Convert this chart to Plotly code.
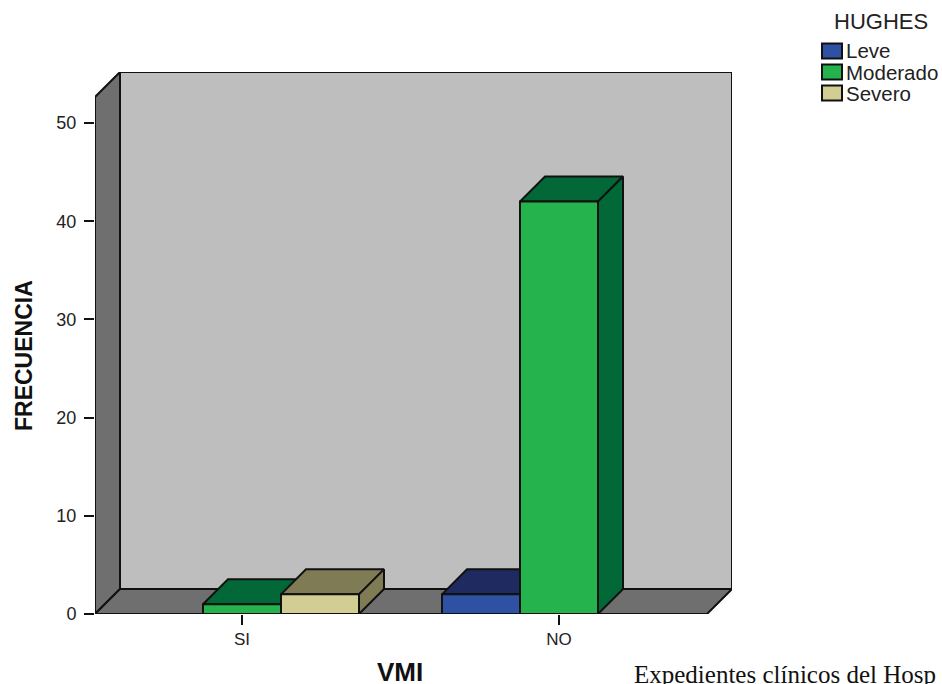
import plotly.graph_objects as go

categories = ["SI", "NO"]
positions = [0, 1]
series_names = ["Leve", "Moderado", "Severo"]
leve = [None, 2]
moderado = [1, 42]
severo = [2, None]
y_ticks = [0, 10, 20, 30, 40, 50]

front_colors = ["#2F51A3", "#25B34E", "#D1CD93"]
dark_colors = ["#1F2A60", "#036837", "#7F7B55"]
WALL = "#BEBEBE"
SHADE = "#6F6F6F"
LINE = "#111111"
TEXT = "#222222"
SANS = "Liberation Sans"

FIG_W = 942
FIG_H = 684
LEFT, RIGHT, TOP, BOTTOM = 95, 732, 72, 614

# scale of the plot area (pixels per data unit) and 3D depth in pixels
PX_X = 317.0
PX_Y = 9.82
DEPTH = 25.0
DX = DEPTH / PX_X
DY = DEPTH / PX_Y
X0 = (LEFT - 242) / PX_X
X1 = (707 - 242) / PX_X
Y_MAX = (BOTTOM - TOP) / PX_Y
BAR = 78 / PX_X
GAP = 1 - 3 * BAR


def px(x):
    return (x - LEFT) / (RIGHT - LEFT)


def py(y):
    return 1 - (y - TOP) / (BOTTOM - TOP)


fig = go.Figure()


def poly(xs, ys, color, width=2):
    fig.add_trace(go.Scatter(
        x=xs + xs[:1], y=ys + ys[:1], mode="lines", fill="toself",
        fillcolor=color, line=dict(color=LINE, width=width),
        showlegend=False, hoverinfo="skip", xaxis="x", yaxis="y"))


# walls and floor
poly([X0 + DX, X1 + DX, X1 + DX, X0 + DX], [DY, DY, Y_MAX, Y_MAX], WALL)
poly([X0, X0 + DX, X0 + DX, X0], [0, DY, Y_MAX, Y_MAX - DY], SHADE)
poly([X0, X0 + DX, X1 + DX, X1], [0, DY, DY, 0], SHADE)

all_series = [leve, moderado, severo]
for pos_i, pos in enumerate(positions):
    for s_i, values in enumerate(all_series):
        v = values[pos_i]
        if v is None:
            continue
        left = pos + (s_i - 1.5) * BAR
        right = left + BAR
        poly([left, left + DX, right + DX, right], [v, v + DY, v + DY, v], dark_colors[s_i])
        poly([right, right + DX, right + DX, right], [0, DY, v + DY, v], dark_colors[s_i])

for name, values, color in zip(series_names, all_series, front_colors):
    fig.add_trace(go.Bar(
        x=positions, y=values, name=name, showlegend=False,
        marker=dict(color=color, line=dict(color=LINE, width=2)),
        xaxis="x2", yaxis="y2", hoverinfo="skip"))

annotations = [
    dict(text="Expedientes clínicos del Hosp", xref="paper", yref="paper",
         x=px(632), xanchor="left", y=py(674), yanchor="middle", height=20, showarrow=False,
         font=dict(family="Liberation Serif", size=25, color="#111111")),
    dict(text="<b>VMI</b>", xref="paper", yref="paper", x=px(400), xanchor="center",
         y=py(672), yanchor="middle", height=24, showarrow=False,
         font=dict(family=SANS, size=26, color="#111111")),
    dict(text="<b>FRECUENCIA</b>", xref="paper", yref="paper", x=px(24), xanchor="center",
         y=py(356), yanchor="middle", textangle=-90, showarrow=False,
         font=dict(family=SANS, size=23, color="#111111")),
    dict(text="HUGHES", xref="paper", yref="paper", x=px(881), xanchor="center",
         y=py(22), yanchor="middle", showarrow=False,
         font=dict(family=SANS, size=22, color=TEXT)),
]
shapes = []
for i, (name, color) in enumerate(zip(series_names, front_colors)):
    yc = 51 + 21 * i
    shapes.append(dict(type="rect", xref="paper", yref="paper",
                       x0=px(822), x1=px(842), y0=py(yc + 7.5), y1=py(yc - 7.5),
                       fillcolor=color, line=dict(color=LINE, width=2)))
    annotations.append(dict(text=name, xref="paper", yref="paper", x=px(844), xanchor="left",
                            y=py(yc), yanchor="middle", showarrow=False,
                            font=dict(family=SANS, size=20.5, color=TEXT)))

fig.update_layout(
    width=FIG_W, height=FIG_H, autosize=False, showlegend=False,
    margin=dict(l=LEFT, r=FIG_W - RIGHT, t=TOP, b=FIG_H - BOTTOM, autoexpand=False),
    paper_bgcolor="white", plot_bgcolor="white",
    barmode="group", bargap=GAP, bargroupgap=0,
    font=dict(family=SANS, color=TEXT),
    xaxis=dict(range=[X0, X1 + DX], tickmode="array", tickvals=positions, ticktext=categories,
               ticks="outside", ticklen=10, tickwidth=2, tickcolor=LINE,
               showgrid=False, zeroline=False, showline=False, tickfont=dict(size=17)),
    yaxis=dict(range=[0, Y_MAX], tickmode="array", tickvals=y_ticks,
               ticks="outside", ticklen=10, tickwidth=2, tickcolor=LINE, ticklabelstandoff=4,
               showgrid=False, zeroline=False, showline=False, tickfont=dict(size=18)),
    xaxis2=dict(range=[X0, X1 + DX], overlaying="x", visible=False, anchor="y2"),
    yaxis2=dict(range=[0, Y_MAX], overlaying="y", visible=False, anchor="x2"),
    shapes=shapes,
    annotations=annotations,
)

fig.write_html("out.html", post_script="document.body.style.margin='0';",
               config=dict(displayModeBar=False))
